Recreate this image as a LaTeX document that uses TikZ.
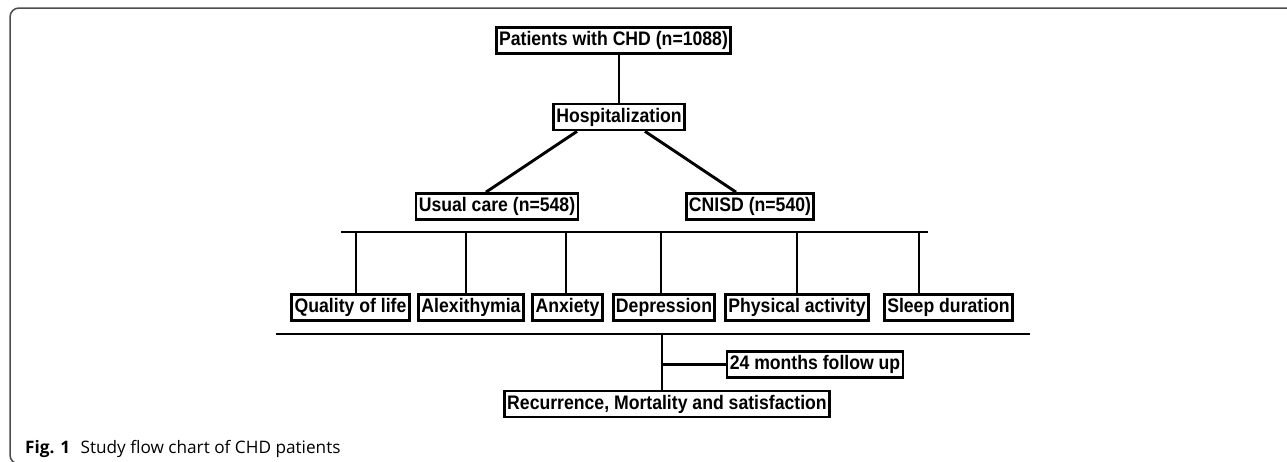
\documentclass[tikz,border=0pt]{standalone}
\usepackage{fontspec}
\setmainfont{Liberation Sans}
\newfontfamily\boxfont[FakeStretch=0.9]{Liberation Sans}
\newfontfamily\capfont{Open Sans}
\usetikzlibrary{calc}

\begin{document}
\begin{tikzpicture}[x=1pt,y=-1pt]
\tikzstyle{block} = [rectangle, draw=black, line width=2.7pt, fill=white, font=\boxfont\fontsize{19.6}{22}\bfseries\selectfont, inner xsep=2.8pt, inner ysep=0pt, minimum height=26pt]
\tikzstyle{line} = [draw, line width=2.9pt]
\tikzstyle{frame} = [draw=black!70, line width=1.5pt, rounded corners=9pt]
\useasboundingbox (0,0) rectangle (1287,461);
\draw[frame] (1300,8) -- (10,8) -- (10,464) -- (60,464);
% top
\node [block] (patients) at (613.5,40.5) {Patients with CHD (n=1088)};
\node [block] (hosp) at (619,117) {Hospitalization};
% groups
\node [block] (usual) at (497,206.5) {Usual care (n=548)};
\node [block] (cnisd) at (750,206.5) {CNISD (n=540)};
% outcomes
\node [block] (qol) at (350.5,307.5) {Quality of life};
\node [block] (alex) at (471,307.5) {Alexithymia};
\node [block] (anx) at (567.5,307.5) {Anxiety};
\node [block] (dep) at (664,307.5) {Depression};
\node [block] (phys) at (797,307.5) {Physical activity};
\node [block] (sleep) at (948.5,307.5) {Sleep duration};
% follow up
\node [block] (follow) at (815,364.5) {24 months follow up};
\node [block] (recur) at (667,404) {Recurrence, Mortality and satisfaction};
\node [anchor=base west, inner sep=0pt, font=\capfont\fontsize{17.2}{20}\selectfont] (caption) at (25,453) {\textbf{Fig. 1}\hspace{0.6em}Study flow chart of CHD patients};

\draw[line] (patients.south -| hosp.north) -- (hosp.north);
\draw[line] ($(hosp.south)+(-42,0)$) -- ($(usual.north)+(-11,0)$);
\draw[line] ($(hosp.south)+(26,0)$) -- ($(cnisd.north)+(-14,0)$);
%\draw[line] (usual) -- (cnisd);
\coordinate (busL) at (341,232);
\coordinate (busR) at (928,232);
\draw[line] (busL) -- (busR);
\foreach \x/\n in {356/qol, 466/alex, 566/anx, 661/dep, 797/phys, 919/sleep} {
  \coordinate (t\n) at (\x,232);
  \draw[line] (t\n) -- (t\n |- \n.north);
}
\coordinate (lowL) at (276,334);
\coordinate (lowR) at (1030,334);
\draw[line] (lowL) -- (lowR);
\coordinate (junc) at (662,334);
\draw[line] (junc) -- (junc |- recur.north);
\draw[line] (junc |- follow.west) -- (follow.west);
\end{tikzpicture}
\end{document}
